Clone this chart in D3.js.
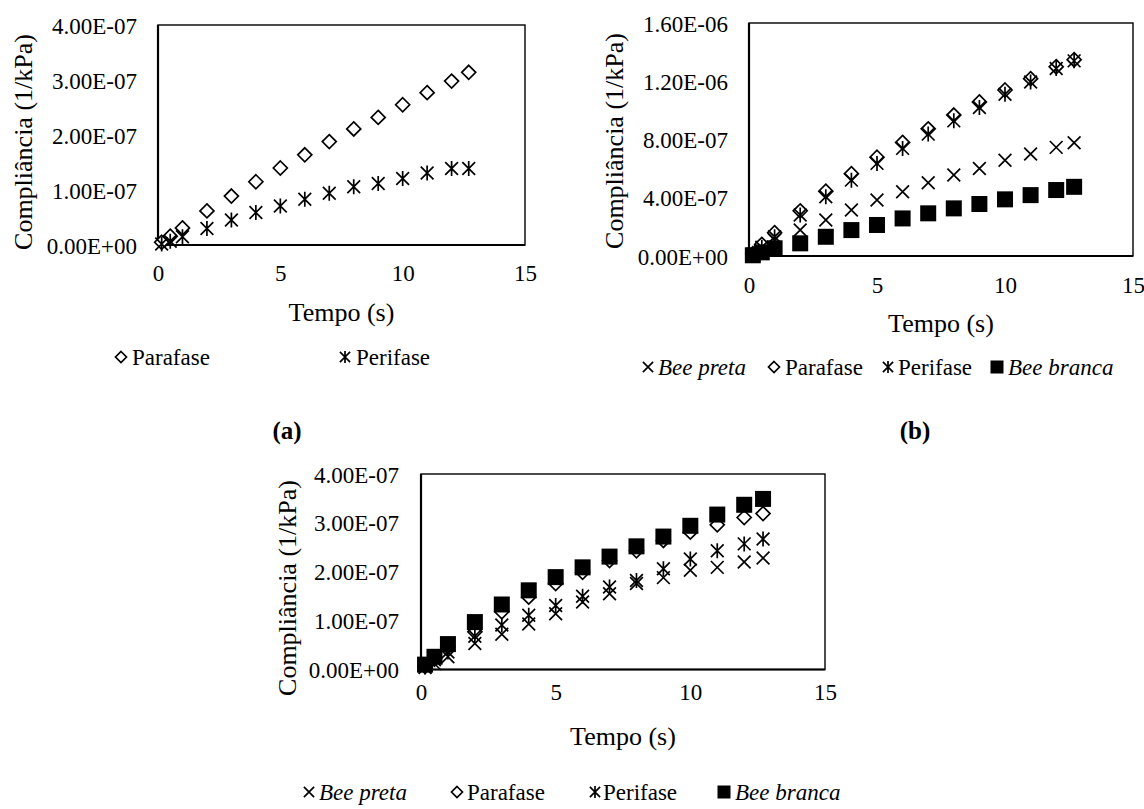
<!DOCTYPE html>
<html>
<head>
<meta charset="utf-8">
<script src="https://cdn.jsdelivr.net/npm/d3@7"></script>
<style>
  html, body { margin: 0; padding: 0; background: #fff; }
  svg { display: block; }
  text { font-family: "Liberation Serif", "Times New Roman", serif; fill: #000; }
</style>
</head>
<body>
<svg id="chart" width="1144" height="809"></svg>
<script>
// ---------------- DATA ----------------
const time = [0.15, 0.5, 1, 2, 3, 4, 5, 6, 7, 8, 9, 10, 11, 12, 12.7];
const xTicks = [0, 5, 10, 15];

// Panel (a)
const aParafase = [0.5e-8, 1.6e-8, 3.1e-8, 6.2e-8, 8.9e-8, 1.15e-7, 1.40e-7, 1.64e-7, 1.88e-7, 2.11e-7, 2.32e-7, 2.55e-7, 2.77e-7, 2.98e-7, 3.14e-7];
const aPerifase = [0.2e-8, 0.7e-8, 1.5e-8, 3.0e-8, 4.55e-8, 5.9e-8, 7.1e-8, 8.3e-8, 9.4e-8, 1.06e-7, 1.12e-7, 1.21e-7, 1.31e-7, 1.39e-7, 1.39e-7];
const aYTicks = [0, 1e-7, 2e-7, 3e-7, 4e-7];

// Panel (b)
const bBeePreta  = [1e-8, 5e-8, 1.1e-7, 1.78e-7, 2.47e-7, 3.16e-7, 3.84e-7, 4.41e-7, 5.03e-7, 5.56e-7, 6.01e-7, 6.58e-7, 7.0e-7, 7.46e-7, 7.77e-7];
const bParafase  = [1.5e-8, 8e-8, 1.6e-7, 3.1e-7, 4.45e-7, 5.65e-7, 6.78e-7, 7.8e-7, 8.73e-7, 9.68e-7, 1.058e-6, 1.14e-6, 1.218e-6, 1.3e-6, 1.348e-6];
const bPerifase  = [1.2e-8, 6e-8, 1.32e-7, 2.81e-7, 4.07e-7, 5.21e-7, 6.36e-7, 7.39e-7, 8.37e-7, 9.28e-7, 1.02e-6, 1.111e-6, 1.195e-6, 1.287e-6, 1.34e-6];
const bBeeBranca = [0.5e-8, 2.5e-8, 5.3e-8, 8.7e-8, 1.32e-7, 1.78e-7, 2.13e-7, 2.58e-7, 2.93e-7, 3.27e-7, 3.57e-7, 3.89e-7, 4.18e-7, 4.53e-7, 4.75e-7];
const bYTicks = [0, 4e-7, 8e-7, 1.2e-6, 1.6e-6];

// Panel (c)
const cBeePreta  = [0.4e-8, 1.2e-8, 2.6e-8, 5.3e-8, 7.2e-8, 9.3e-8, 1.14e-7, 1.38e-7, 1.55e-7, 1.76e-7, 1.88e-7, 2.03e-7, 2.09e-7, 2.2e-7, 2.28e-7];
const cParafase  = [0.6e-8, 2.2e-8, 4.6e-8, 7.7e-8, 1.18e-7, 1.48e-7, 1.76e-7, 1.99e-7, 2.23e-7, 2.43e-7, 2.64e-7, 2.81e-7, 2.96e-7, 3.11e-7, 3.19e-7];
const cPerifase  = [0.5e-8, 2e-8, 3.6e-8, 6.8e-8, 9.1e-8, 1.11e-7, 1.31e-7, 1.50e-7, 1.69e-7, 1.82e-7, 2.06e-7, 2.26e-7, 2.43e-7, 2.57e-7, 2.67e-7];
const cBeeBranca = [1e-8, 2.6e-8, 5.2e-8, 9.7e-8, 1.33e-7, 1.62e-7, 1.89e-7, 2.09e-7, 2.31e-7, 2.52e-7, 2.72e-7, 2.94e-7, 3.17e-7, 3.37e-7, 3.49e-7];
const cYTicks = [0, 1e-7, 2e-7, 3e-7, 4e-7];

const xTitle = "Tempo (s)";
const yTitle = "Compliância (1/kPa)";
const seriesNames = { preta: "Bee preta", para: "Parafase", peri: "Perifase", branca: "Bee branca" };

// ---------------- HELPERS ----------------
function sciFmt(v) {
  if (v === 0) return "0.00E+00";
  let e = Math.floor(Math.log10(Math.abs(v)));
  let m = v / Math.pow(10, e);
  if (m >= 9.995) { m /= 10; e += 1; }
  const sign = e < 0 ? "-" : "+";
  const ea = String(Math.abs(e)).padStart(2, "0");
  return m.toFixed(2) + "E" + sign + ea;
}

const svg = d3.select("#chart");

function drawMarker(g, type, x, y, s) {
  const sw = 1.7;
  if (type === "diamond") {
    g.append("path")
      .attr("d", `M${x},${y - s} L${x + s},${y} L${x},${y + s} L${x - s},${y} Z`)
      .attr("fill", "#fff").attr("stroke", "#000").attr("stroke-width", sw);
  } else if (type === "x" || type === "star") {
    const d = s * 0.85;
    g.append("path")
      .attr("d", `M${x - d},${y - d} L${x + d},${y + d} M${x - d},${y + d} L${x + d},${y - d}` +
        (type === "star" ? ` M${x},${y - s} L${x},${y + s}` : ""))
      .attr("fill", "none").attr("stroke", "#000").attr("stroke-width", sw);
  } else if (type === "square") {
    g.append("rect")
      .attr("x", x - s).attr("y", y - s).attr("width", 2 * s).attr("height", 2 * s)
      .attr("fill", "#000");
  }
}

function drawPanel(cfg) {
  const g = svg.append("g");
  const x = d3.scaleLinear().domain([0, 15]).range([cfg.left, cfg.right]);
  const y = d3.scaleLinear().domain([0, cfg.yTicks[cfg.yTicks.length - 1]]).range([cfg.bottom, cfg.top]);

  // plot area border
  g.append("rect")
    .attr("x", cfg.left).attr("y", cfg.top)
    .attr("width", cfg.right - cfg.left).attr("height", cfg.bottom - cfg.top)
    .attr("fill", "none").attr("stroke", "#000").attr("stroke-width", 1.4);

  // y axis
  const yAxis = d3.axisLeft(y).tickValues(cfg.yTicks).tickFormat(sciFmt).tickSize(0).tickPadding(0);
  const ya = g.append("g").attr("transform", `translate(${cfg.yLabelRight},0)`).call(yAxis);
  ya.select(".domain").remove();
  ya.selectAll("text").attr("font-size", cfg.tickFont).attr("font-family", "Liberation Serif").attr("dy", "0.35em");

  // x axis
  const xAxis = d3.axisBottom(x).tickValues(xTicks).tickFormat(d3.format("d")).tickSize(0).tickPadding(0);
  const xa = g.append("g").attr("transform", `translate(0,${cfg.xLabelY})`).call(xAxis);
  xa.select(".domain").remove();
  xa.selectAll("text").attr("font-size", cfg.tickFont).attr("font-family", "Liberation Serif").attr("dy", "0.35em");

  // axis lines (thicker)
  g.append("line").attr("x1", cfg.left).attr("x2", cfg.right).attr("y1", y(0)).attr("y2", y(0))
    .attr("stroke", "#000").attr("stroke-width", 2.2);
  g.append("line").attr("x1", cfg.left).attr("x2", cfg.left).attr("y1", cfg.top).attr("y2", cfg.bottom)
    .attr("stroke", "#000").attr("stroke-width", 2.2);

  // titles
  g.append("text").attr("x", (cfg.left + cfg.right) / 2 + (cfg.xTitleDx || 0)).attr("y", cfg.xTitleY)
    .attr("text-anchor", "middle").attr("dominant-baseline", "central")
    .attr("font-size", cfg.titleFont).text(xTitle);
  g.append("text")
    .attr("transform", `translate(${cfg.yTitleX},${cfg.yTitleY}) rotate(-90)`)
    .attr("text-anchor", "middle").attr("dominant-baseline", "central")
    .attr("font-size", cfg.titleFont).text(yTitle);

  // series
  cfg.series.forEach(s => {
    const sg = g.append("g");
    s.values.forEach((v, i) => drawMarker(sg, s.marker, x(time[i]), y(v), s.size));
  });

  // legend
  cfg.legend.forEach(l => {
    drawMarker(g, l.marker, l.mx, cfg.legendY, l.size);
    g.append("text").attr("x", l.tx).attr("y", cfg.legendY)
      .attr("dominant-baseline", "central")
      .attr("font-size", cfg.legendFont)
      .attr("font-style", l.italic ? "italic" : "normal")
      .text(l.name);
  });
}

// Panel (a)
drawPanel({
  left: 158, right: 525, top: 25, bottom: 245,
  yTicks: aYTicks, yLabelRight: 137, xLabelY: 273,
  tickFont: 23, titleFont: 26, legendFont: 23,
  xTitleY: 312, yTitleX: 23, yTitleY: 142,
  series: [
    { values: aParafase, marker: "diamond", size: 7 },
    { values: aPerifase, marker: "star", size: 7.5 }
  ],
  legendY: 357,
  legend: [
    { marker: "diamond", size: 5.5, mx: 121, tx: 132, name: seriesNames.para },
    { marker: "star", size: 6, mx: 345, tx: 356, name: seriesNames.peri }
  ]
});

// Panel (b)
drawPanel({
  left: 749, right: 1133, top: 23, bottom: 256,
  yTicks: bYTicks, yLabelRight: 728, xLabelY: 285,
  tickFont: 23, titleFont: 26, legendFont: 23,
  xTitleY: 323, yTitleX: 614, yTitleY: 141,
  series: [
    { values: bBeePreta, marker: "x", size: 7.5 },
    { values: bParafase, marker: "diamond", size: 7 },
    { values: bPerifase, marker: "star", size: 7.5 },
    { values: bBeeBranca, marker: "square", size: 8 }
  ],
  legendY: 367,
  legend: [
    { marker: "x", size: 6, mx: 648, tx: 658, name: seriesNames.preta, italic: true },
    { marker: "diamond", size: 5.5, mx: 774, tx: 785, name: seriesNames.para },
    { marker: "star", size: 6, mx: 888, tx: 898, name: seriesNames.peri },
    { marker: "square", size: 6.5, mx: 997, tx: 1008, name: seriesNames.branca, italic: true }
  ]
});

// Panel (c)
drawPanel({
  left: 421, right: 825, top: 474, bottom: 669.5,
  yTicks: cYTicks, yLabelRight: 399, xLabelY: 692,
  tickFont: 23, titleFont: 26, legendFont: 23,
  xTitleY: 736, yTitleX: 287, yTitleY: 588,
  series: [
    { values: cBeePreta, marker: "x", size: 7.5 },
    { values: cParafase, marker: "diamond", size: 7 },
    { values: cPerifase, marker: "star", size: 7.5 },
    { values: cBeeBranca, marker: "square", size: 8 }
  ],
  legendY: 792,
  legend: [
    { marker: "x", size: 6, mx: 309, tx: 319, name: seriesNames.preta, italic: true },
    { marker: "diamond", size: 5.5, mx: 457, tx: 467, name: seriesNames.para },
    { marker: "star", size: 6, mx: 595, tx: 603, name: seriesNames.peri },
    { marker: "square", size: 6.5, mx: 724, tx: 735, name: seriesNames.branca, italic: true }
  ]
});

// panel labels
svg.append("text").attr("x", 287).attr("y", 430).attr("text-anchor", "middle")
  .attr("dominant-baseline", "central").attr("font-size", 25).attr("font-weight", "bold").text("(a)");
svg.append("text").attr("x", 915).attr("y", 430).attr("text-anchor", "middle")
  .attr("dominant-baseline", "central").attr("font-size", 25).attr("font-weight", "bold").text("(b)");
</script>
</body>
</html>
